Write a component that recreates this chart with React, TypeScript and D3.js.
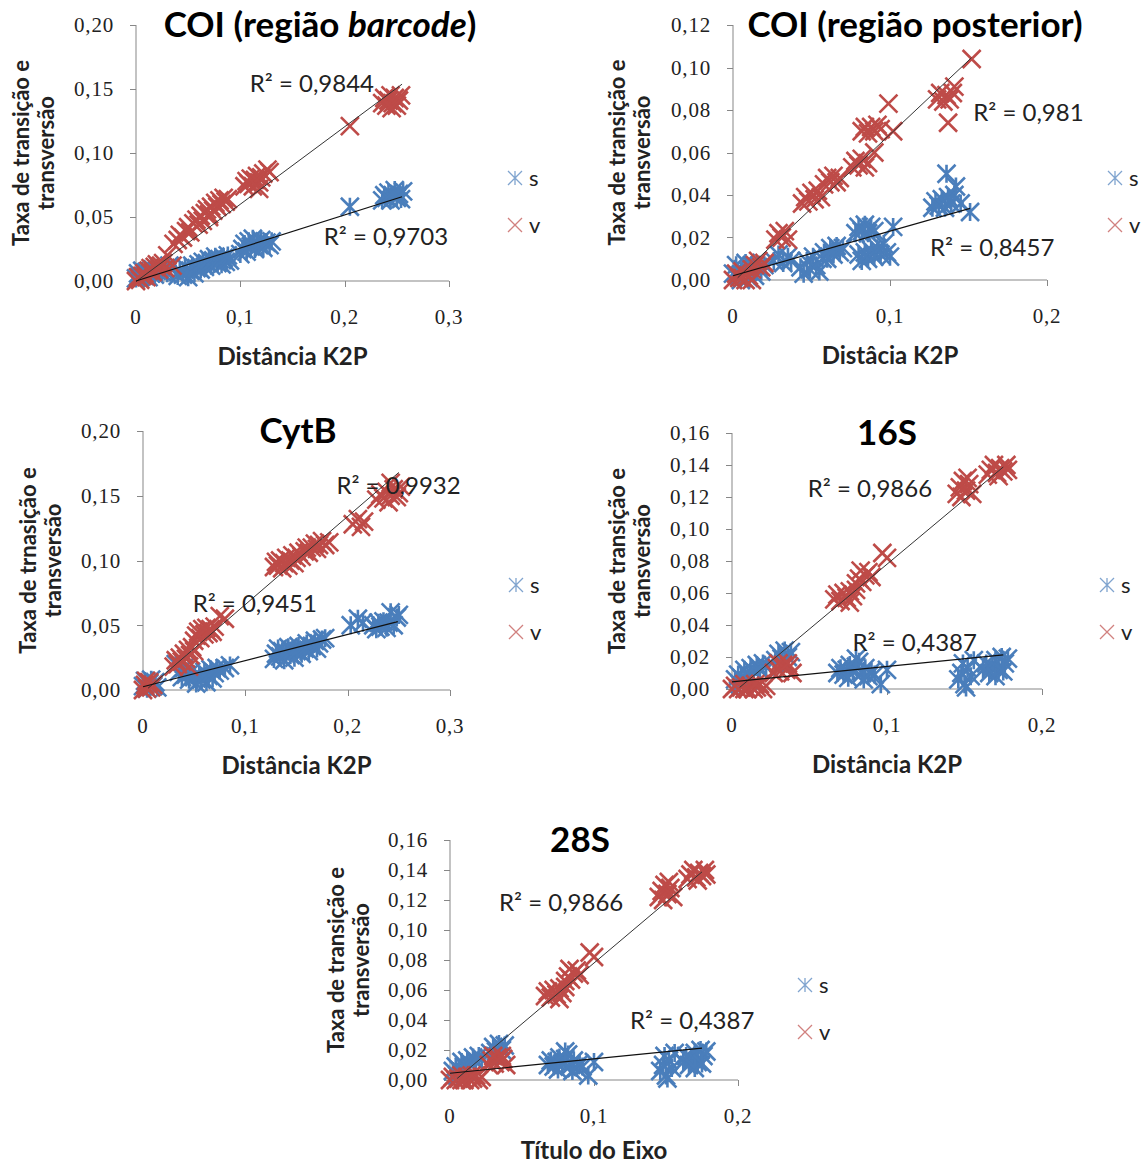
import * as d3 from 'd3'

type Pt = [number, number]

// ---- data ----

// COI (região barcode)
const coiBarcodeS: Pt[] = [
  [0, 0.002], [0.002, 0.006], [0.004, 0.003], [0.006, 0.008], [0.008, 0.004], [0.01, 0.007], [0.012, 0.003],
  [0.014, 0.006], [0.016, 0.009], [0.018, 0.005], [0.02, 0.008], [0.022, 0.011], [0.025, 0.007], [0.028, 0.01],
  [0.03, 0.006], [0.032, 0.012],
  [0.04, 0.004], [0.042, 0.008], [0.045, 0.005], [0.047, 0.011], [0.05, 0.003], [0.052, 0.008], [0.054, 0.012],
  [0.056, 0.006], [0.058, 0.01], [0.06, 0.013], [0.062, 0.009], [0.064, 0.015], [0.066, 0.011], [0.068, 0.014],
  [0.07, 0.017], [0.072, 0.012], [0.074, 0.016], [0.076, 0.019], [0.078, 0.014], [0.08, 0.017], [0.082, 0.013],
  [0.084, 0.018], [0.086, 0.015], [0.088, 0.02], [0.09, 0.016],
  [0.1, 0.021], [0.102, 0.025], [0.104, 0.029], [0.106, 0.023], [0.108, 0.031], [0.11, 0.027], [0.112, 0.033],
  [0.114, 0.025], [0.116, 0.03], [0.118, 0.028], [0.12, 0.032], [0.122, 0.026], [0.125, 0.03], [0.128, 0.028],
  [0.13, 0.031],
  [0.205, 0.058],
  [0.236, 0.063], [0.238, 0.067], [0.24, 0.065], [0.242, 0.069], [0.244, 0.063], [0.246, 0.067], [0.248, 0.071],
  [0.25, 0.065], [0.252, 0.068], [0.254, 0.064], [0.256, 0.07],
]
const coiBarcodeV: Pt[] = [
  [0, 0], [0.002, 0.003], [0.004, 0.001], [0.006, 0.004], [0.008, 0.006], [0.01, 0.003], [0.012, 0.008],
  [0.014, 0.01], [0.016, 0.007], [0.018, 0.011], [0.02, 0.013], [0.022, 0.009], [0.024, 0.012], [0.026, 0.014],
  [0.028, 0.01],
  [0.03, 0.02], [0.035, 0.012],
  [0.036, 0.029], [0.04, 0.032], [0.042, 0.036], [0.045, 0.034], [0.048, 0.039], [0.05, 0.042], [0.052, 0.038],
  [0.055, 0.045], [0.058, 0.048], [0.06, 0.044], [0.062, 0.051], [0.064, 0.047], [0.066, 0.053], [0.068, 0.056],
  [0.07, 0.052], [0.072, 0.058], [0.074, 0.055], [0.076, 0.061], [0.078, 0.058], [0.08, 0.063], [0.082, 0.06],
  [0.084, 0.065], [0.086, 0.062], [0.088, 0.064], [0.07, 0.05],
  [0.104, 0.074], [0.106, 0.078], [0.108, 0.076], [0.11, 0.08], [0.112, 0.074], [0.114, 0.079], [0.116, 0.082],
  [0.118, 0.077], [0.12, 0.081], [0.122, 0.084], [0.118, 0.072], [0.126, 0.087], [0.128, 0.085],
  [0.205, 0.121],
  [0.236, 0.139], [0.238, 0.143], [0.24, 0.137], [0.242, 0.141], [0.244, 0.145], [0.246, 0.139], [0.248, 0.143],
  [0.25, 0.137], [0.252, 0.141], [0.254, 0.145], [0.245, 0.135],
]
// slope, intercept, x from, x to
const coiBarcodeFitS = [0.258, 0.0, 0.0, 0.255]
const coiBarcodeFitV = [0.605, -0.0005, 0.0, 0.255]

// COI (região posterior)
const coiPostS: Pt[] = [
  [0, 0.003], [0.002, 0.007], [0.004, 0.002], [0.006, 0.005], [0.008, 0.008], [0.01, 0.004], [0.012, 0.007],
  [0.014, 0.002], [0.016, 0.006], [0.018, 0.004], [0.02, 0.007], [0.005, 0], [0.01, 0.001],
  [0.026, 0.009], [0.029, 0.012], [0.032, 0.008], [0.035, 0.011], [0.037, 0.009],
  [0.043, 0.006], [0.045, 0.003], [0.047, 0.009], [0.049, 0.005], [0.051, 0.011], [0.053, 0.007], [0.055, 0.004],
  [0.057, 0.01],
  [0.058, 0.013], [0.06, 0.01], [0.062, 0.015], [0.064, 0.012], [0.066, 0.016], [0.068, 0.013], [0.07, 0.015],
  [0.078, 0.022], [0.08, 0.025], [0.082, 0.023], [0.084, 0.026], [0.086, 0.022], [0.088, 0.025], [0.09, 0.023],
  [0.08, 0.012], [0.082, 0.009], [0.084, 0.013], [0.086, 0.01], [0.088, 0.014], [0.09, 0.011], [0.092, 0.015],
  [0.094, 0.012], [0.096, 0.017], [0.098, 0.013], [0.1, 0.011],
  [0.102, 0.025],
  [0.127, 0.034], [0.129, 0.037], [0.131, 0.035], [0.133, 0.038], [0.135, 0.034], [0.137, 0.039], [0.139, 0.036],
  [0.141, 0.04], [0.136, 0.05], [0.142, 0.044], [0.145, 0.036], [0.151, 0.032],
]
const coiPostV: Pt[] = [
  [0, 0], [0.002, 0.003], [0.004, 0.001], [0.006, 0.004], [0.008, 0], [0.01, 0.002], [0.012, 0.005],
  [0.014, 0.007], [0.016, 0.009], [0.018, 0.006], [0.02, 0.008], [0.006, 0.001], [0.012, 0],
  [0.027, 0.019], [0.029, 0.022], [0.031, 0.02], [0.033, 0.023], [0.035, 0.019],
  [0.044, 0.036], [0.046, 0.039], [0.048, 0.037], [0.05, 0.041], [0.052, 0.038], [0.054, 0.042], [0.056, 0.039],
  [0.058, 0.045], [0.06, 0.048], [0.062, 0.046], [0.064, 0.049], [0.066, 0.046], [0.068, 0.048],
  [0.076, 0.053], [0.078, 0.056], [0.08, 0.054], [0.082, 0.057], [0.084, 0.053], [0.086, 0.055],
  [0.09, 0.06],
  [0.082, 0.07], [0.084, 0.072], [0.086, 0.069], [0.088, 0.072], [0.09, 0.07], [0.092, 0.073], [0.094, 0.071],
  [0.099, 0.083], [0.102, 0.07],
  [0.13, 0.085], [0.132, 0.088], [0.134, 0.084], [0.136, 0.087], [0.138, 0.085], [0.14, 0.088], [0.137, 0.074],
  [0.141, 0.091], [0.152, 0.104],
]
const coiPostFitS = [0.21, 0.002, 0.0, 0.151]
const coiPostFitV = [0.695, -0.001, 0.003, 0.152]

// CytB
const cytbS: Pt[] = [
  [0, 0.003], [0.002, 0.007], [0.004, 0.001], [0.006, 0.005], [0.008, 0.008], [0.01, 0.003], [0.012, 0.006],
  [0.014, 0.002],
  [0.032, 0.02], [0.035, 0.014], [0.038, 0.01], [0.04, 0.017], [0.042, 0.012], [0.045, 0.008], [0.047, 0.014],
  [0.05, 0.01], [0.052, 0.005], [0.055, 0.012], [0.057, 0.008], [0.06, 0.014], [0.062, 0.006], [0.064, 0.011],
  [0.066, 0.016], [0.068, 0.009], [0.07, 0.013], [0.072, 0.017], [0.075, 0.015], [0.08, 0.017], [0.085, 0.019],
  [0.128, 0.024], [0.13, 0.028], [0.132, 0.032], [0.134, 0.026], [0.136, 0.03], [0.138, 0.023], [0.14, 0.029],
  [0.142, 0.033], [0.144, 0.027], [0.146, 0.031], [0.148, 0.025], [0.15, 0.03], [0.152, 0.034], [0.155, 0.028],
  [0.158, 0.032], [0.16, 0.036], [0.162, 0.03], [0.165, 0.034], [0.168, 0.038], [0.17, 0.032], [0.172, 0.036],
  [0.175, 0.039], [0.178, 0.04],
  [0.203, 0.05], [0.21, 0.055], [0.215, 0.052], [0.225, 0.05], [0.228, 0.047], [0.23, 0.052], [0.232, 0.049],
  [0.235, 0.053], [0.238, 0.048], [0.24, 0.052], [0.242, 0.06], [0.245, 0.05], [0.248, 0.056], [0.25, 0.058],
]
const cytbV: Pt[] = [
  [0, 0], [0.002, 0.004], [0.004, 0.001], [0.006, 0.006], [0.008, 0.002], [0.01, 0.004], [0.003, 0.007],
  [0.03, 0.018], [0.032, 0.023], [0.034, 0.02], [0.036, 0.025], [0.038, 0.022], [0.04, 0.028], [0.042, 0.024],
  [0.044, 0.031], [0.046, 0.027], [0.048, 0.033], [0.05, 0.03], [0.045, 0.018],
  [0.05, 0.038], [0.052, 0.042], [0.054, 0.045], [0.056, 0.04], [0.058, 0.047], [0.06, 0.043], [0.062, 0.048],
  [0.064, 0.044], [0.066, 0.047], [0.068, 0.045], [0.07, 0.049],
  [0.075, 0.057], [0.08, 0.055],
  [0.128, 0.095], [0.13, 0.099], [0.132, 0.096], [0.134, 0.1], [0.136, 0.094], [0.138, 0.098], [0.14, 0.102],
  [0.142, 0.096], [0.144, 0.1], [0.146, 0.104], [0.148, 0.098], [0.15, 0.102], [0.152, 0.106], [0.155, 0.103],
  [0.158, 0.107], [0.16, 0.11], [0.162, 0.106], [0.165, 0.11], [0.168, 0.113], [0.17, 0.109], [0.172, 0.112],
  [0.175, 0.115], [0.178, 0.112], [0.182, 0.114],
  [0.205, 0.128], [0.21, 0.132], [0.213, 0.126], [0.216, 0.13],
  [0.228, 0.147], [0.232, 0.151], [0.235, 0.148], [0.238, 0.153], [0.24, 0.145], [0.242, 0.15], [0.245, 0.155],
  [0.248, 0.149], [0.25, 0.152], [0.242, 0.16], [0.252, 0.157],
]
const cytbFitS = [0.202, 0.0025, 0.0, 0.249]
const cytbFitV = [0.68, -0.002, 0.005, 0.25]

// 16S (the 28S panel shows the same points)
const rrna16S: Pt[] = [
  [0.002, 0.006], [0.004, 0.009], [0.006, 0.007], [0.008, 0.012], [0.01, 0.009], [0.012, 0.013], [0.014, 0.011],
  [0.016, 0.015], [0.018, 0.012], [0.02, 0.016], [0.022, 0.014], [0.01, 0.005], [0.005, 0.003],
  [0.028, 0.018], [0.03, 0.022], [0.032, 0.019], [0.034, 0.024], [0.036, 0.02], [0.038, 0.023], [0.033, 0.016],
  [0.068, 0.01], [0.07, 0.013], [0.072, 0.009], [0.074, 0.012], [0.076, 0.015], [0.078, 0.011], [0.08, 0.014],
  [0.082, 0.017], [0.084, 0.01], [0.086, 0.013], [0.088, 0.008], [0.09, 0.011], [0.092, 0.009], [0.075, 0.007],
  [0.085, 0.006], [0.08, 0.019],
  [0.096, 0.003], [0.1, 0.012],
  [0.146, 0.006], [0.148, 0.01], [0.15, 0.003], [0.152, 0.013], [0.149, 0.016], [0.154, 0.008], [0.156, 0.018],
  [0.151, 0.001],
  [0.162, 0.012], [0.164, 0.016], [0.166, 0.01], [0.168, 0.014], [0.17, 0.018], [0.172, 0.012], [0.174, 0.02],
  [0.176, 0.016], [0.178, 0.019], [0.17, 0.008], [0.175, 0.011],
]
const rrna16V: Pt[] = [
  [0, 0], [0.002, 0.002], [0.004, 0], [0.006, 0.001], [0.008, 0.003], [0.01, 0], [0.012, 0.002], [0.014, 0],
  [0.016, 0.001], [0.018, 0.003], [0.02, 0], [0.022, 0.002], [0.008, 0], [0.015, 0.003],
  [0.027, 0.01], [0.029, 0.013], [0.031, 0.011], [0.033, 0.015], [0.035, 0.012], [0.037, 0.014], [0.039, 0.01],
  [0.03, 0.016], [0.036, 0.016],
  [0.066, 0.056], [0.068, 0.059], [0.07, 0.055], [0.072, 0.06], [0.074, 0.057], [0.076, 0.061], [0.078, 0.058],
  [0.08, 0.062], [0.076, 0.054],
  [0.08, 0.066], [0.082, 0.069], [0.084, 0.067], [0.086, 0.071], [0.088, 0.073], [0.083, 0.074], [0.09, 0.07],
  [0.097, 0.085], [0.1, 0.082],
  [0.145, 0.122], [0.147, 0.126], [0.149, 0.13], [0.151, 0.124], [0.153, 0.128], [0.155, 0.122], [0.148, 0.12],
  [0.152, 0.132],
  [0.165, 0.134], [0.167, 0.137], [0.169, 0.14], [0.171, 0.135], [0.173, 0.138], [0.175, 0.136], [0.177, 0.14],
  [0.172, 0.133], [0.178, 0.137],
]
const rrna16FitS = [0.096, 0.0045, 0.0, 0.175]
const rrna16FitV = [0.81, -0.003, 0.005, 0.175]

const seriesNames = ['s', 'v']
const r2Labels = [
  ['R² = 0,9703', 'R² = 0,9844'],
  ['R² = 0,8457', 'R² = 0,981'],
  ['R² = 0,9451', 'R² = 0,9932'],
  ['R² = 0,4387', 'R² = 0,9866'],
  ['R² = 0,4387', 'R² = 0,9866'],
]
// label anchors in data units [x, y] (s, v)
const r2Anchors: Pt[][] = [
  [[0.18, 0.028], [0.109, 0.148]],
  [[0.1255, 0.0113], [0.153, 0.0748]],
  [[0.0485, 0.06], [0.189, 0.1516]],
  [[0.0778, 0.0238], [0.0489, 0.12]],
  [[0.125, 0.034], [0.034, 0.1127]],
]

const BLUE = '#4a7ebb'
const RED = '#be4b48'
const SANS = 'Lato, "Open Sans", sans-serif'
const SERIF = '"Liberation Serif", serif'

const panels = [
  {
    title: ['COI (região ', 'barcode', ')'], titleX: 320,
    yTitle: ['Taxa de transição e', 'transversão'], yTitleX: [21, 46],
    xTitle: 'Distância K2P', xTitleGap: 76,
    x0: 136, x1: 449, yTop: 25, yBot: 281, xMax: 0.3, yMax: 0.2, yStep: 0.05,
    legendX: 515, legendY: 178,
    s: coiBarcodeS, v: coiBarcodeV, fitS: coiBarcodeFitS, fitV: coiBarcodeFitV,
  },
  {
    title: ['COI (região posterior)'], titleX: 915,
    yTitle: ['Taxa de transição e', 'transversão'], yTitleX: [617, 642],
    xTitle: 'Distâcia K2P', xTitleGap: 76,
    x0: 733, x1: 1047, yTop: 25, yBot: 280, xMax: 0.2, yMax: 0.12, yStep: 0.02,
    legendX: 1115, legendY: 178,
    s: coiPostS, v: coiPostV, fitS: coiPostFitS, fitV: coiPostFitV,
  },
  {
    title: ['CytB'], titleX: 298,
    yTitle: ['Taxa de trnasição e', 'transversão'], yTitleX: [28, 53],
    xTitle: 'Distância K2P', xTitleGap: 76,
    x0: 143, x1: 450, yTop: 431, yBot: 690, xMax: 0.3, yMax: 0.2, yStep: 0.05,
    legendX: 516, legendY: 585,
    s: cytbS, v: cytbV, fitS: cytbFitS, fitV: cytbFitV,
  },
  {
    title: ['16S'], titleX: 887,
    yTitle: ['Taxa de transição e', 'transversão'], yTitleX: [617, 642],
    xTitle: 'Distância K2P', xTitleGap: 76,
    x0: 732, x1: 1042, yTop: 433, yBot: 689, xMax: 0.2, yMax: 0.16, yStep: 0.02,
    legendX: 1107, legendY: 585,
    s: rrna16S, v: rrna16V, fitS: rrna16FitS, fitV: rrna16FitV,
  },
  {
    title: ['28S'], titleX: 580,
    yTitle: ['Taxa de transição e', 'transversão'], yTitleX: [336, 361],
    xTitle: 'Título do Eixo', xTitleGap: 71,
    x0: 450, x1: 738, yTop: 840, yBot: 1080, xMax: 0.2, yMax: 0.16, yStep: 0.02,
    legendX: 805, legendY: 985,
    s: rrna16S, v: rrna16V, fitS: rrna16FitS, fitV: rrna16FitV,
  },
]

const R = 9
const starPath = `M${-R},${-R}L${R},${R}M${-R},${R}L${R},${-R}M0,${-R}L0,${R}`
const crossPath = `M${-R},${-R}L${R},${R}M${-R},${R}L${R},${-R}`
const r2 = 7
const starSmall = `M${-r2},${-r2}L${r2},${r2}M${-r2},${r2}L${r2},${-r2}M0,${-r2}L0,${r2}`
const crossSmall = `M${-r2},${-r2}L${r2},${r2}M${-r2},${r2}L${r2},${-r2}`

const fmtY = (v: number) => v.toFixed(2).replace('.', ',')
const fmtX = (v: number) => (v === 0 ? '0' : v.toFixed(1).replace('.', ','))

function Panel({ p, idx }: { p: (typeof panels)[number]; idx: number }) {
  const x = d3.scaleLinear().domain([0, p.xMax]).range([p.x0, p.x1])
  const y = d3.scaleLinear().domain([0, p.yMax]).range([p.yBot, p.yTop])
  const yTicks = d3.range(0, p.yMax + 1e-9, p.yStep)
  const xTicks = d3.range(0, p.xMax + 1e-9, 0.1)
  const line = d3.line<Pt>().x((d) => x(d[0])).y((d) => y(d[1]))
  const fitLine = (f: number[]) =>
    line([
      [f[2], f[0] * f[2] + f[1]],
      [f[3], f[0] * f[3] + f[1]],
    ])
  const yMid = (p.yTop + p.yBot) / 2
  const xMid = (p.x0 + p.x1) / 2
  const axisColor = '#878787'

  return (
    <g>
      {/* axes */}
      <line x1={p.x0} x2={p.x0} y1={p.yTop} y2={p.yBot + 6} stroke={axisColor} />
      <line x1={p.x0 - 6} x2={p.x1} y1={p.yBot} y2={p.yBot} stroke={axisColor} />
      {yTicks.map((t) => (
        <g key={'y' + t}>
          <line x1={p.x0 - 6} x2={p.x0} y1={Math.round(y(t)) + 0.5} y2={Math.round(y(t)) + 0.5} stroke={axisColor} />
          <text
            x={p.x0 - 22}
            y={y(t)}
            dy="0.35em"
            textAnchor="end"
            fontFamily={SERIF}
            fontSize={21}
            letterSpacing={0.8}
            fill="#222"
          >
            {fmtY(t)}
          </text>
        </g>
      ))}
      {xTicks.map((t) => (
        <g key={'x' + t}>
          <line x1={Math.round(x(t)) + 0.5} x2={Math.round(x(t)) + 0.5} y1={p.yBot} y2={p.yBot + 6} stroke={axisColor} />
          <text
            x={x(t)}
            y={p.yBot + 36}
            dy="0.35em"
            textAnchor="middle"
            fontFamily={SERIF}
            fontSize={21}
            letterSpacing={0.8}
            fill="#222"
          >
            {fmtX(t)}
          </text>
        </g>
      ))}

      {/* points */}
      <g stroke={BLUE} strokeWidth={2.6} fill="none">
        {p.s.map((d, i) => (
          <path key={i} d={starPath} transform={`translate(${x(d[0])},${y(d[1])})`} />
        ))}
      </g>
      <g stroke={RED} strokeWidth={2.6} fill="none">
        {p.v.map((d, i) => (
          <path key={i} d={crossPath} transform={`translate(${x(d[0])},${y(d[1])})`} />
        ))}
      </g>

      {/* trend lines */}
      <path d={fitLine(p.fitV) ?? ''} stroke="#333" strokeWidth={1} fill="none" />
      <path d={fitLine(p.fitS) ?? ''} stroke="#111" strokeWidth={1.2} fill="none" />

      {/* R² labels */}
      {r2Anchors[idx].map((a, i) => (
        <text key={i} x={x(a[0])} y={y(a[1])} fontFamily={SANS} fontSize={24} fill="#222">
          {r2Labels[idx][i]}
        </text>
      ))}

      {/* title */}
      <text x={p.titleX} y={p.yTop + 12} textAnchor="middle" fontFamily={SANS} fontWeight="bold" fontSize={35} fill="#000">
        {p.title.map((s, i) => (
          <tspan key={i} fontStyle={i === 1 ? 'italic' : 'normal'}>
            {s}
          </tspan>
        ))}
      </text>

      {/* y title */}
      {p.yTitle.map((s, i) => (
        <text
          key={i}
          transform={`translate(${p.yTitleX[i]},${yMid}) rotate(-90)`}
          textAnchor="middle"
          dy="0.35em"
          fontFamily={SANS}
          fontWeight="bold"
          fontSize={22}
          fill="#222"
        >
          {s}
        </text>
      ))}

      {/* x title */}
      <text x={xMid} y={p.yBot + p.xTitleGap} dy="0.35em" textAnchor="middle" fontFamily={SANS} fontWeight="bold" fontSize={24} fill="#222">
        {p.xTitle}
      </text>

      {/* legend */}
      {seriesNames.map((name, i) => (
        <g key={name} transform={`translate(${p.legendX},${p.legendY + i * 47})`}>
          <path d={i === 0 ? starSmall : crossSmall} stroke={i === 0 ? BLUE : RED} strokeWidth={1.3} opacity={0.7} fill="none" />
          <text x={14} y={0} dy="0.35em" fontFamily={SANS} fontSize={22} fill="#222">
            {name}
          </text>
        </g>
      ))}
    </g>
  )
}

export default function App() {
  return (
    <svg
      width={1148}
      height={1166}
      style={{ position: 'absolute', left: 0, top: 0, background: '#fff' }}
    >
      {panels.map((p, i) => (
        <Panel key={i} p={p} idx={i} />
      ))}
    </svg>
  )
}
